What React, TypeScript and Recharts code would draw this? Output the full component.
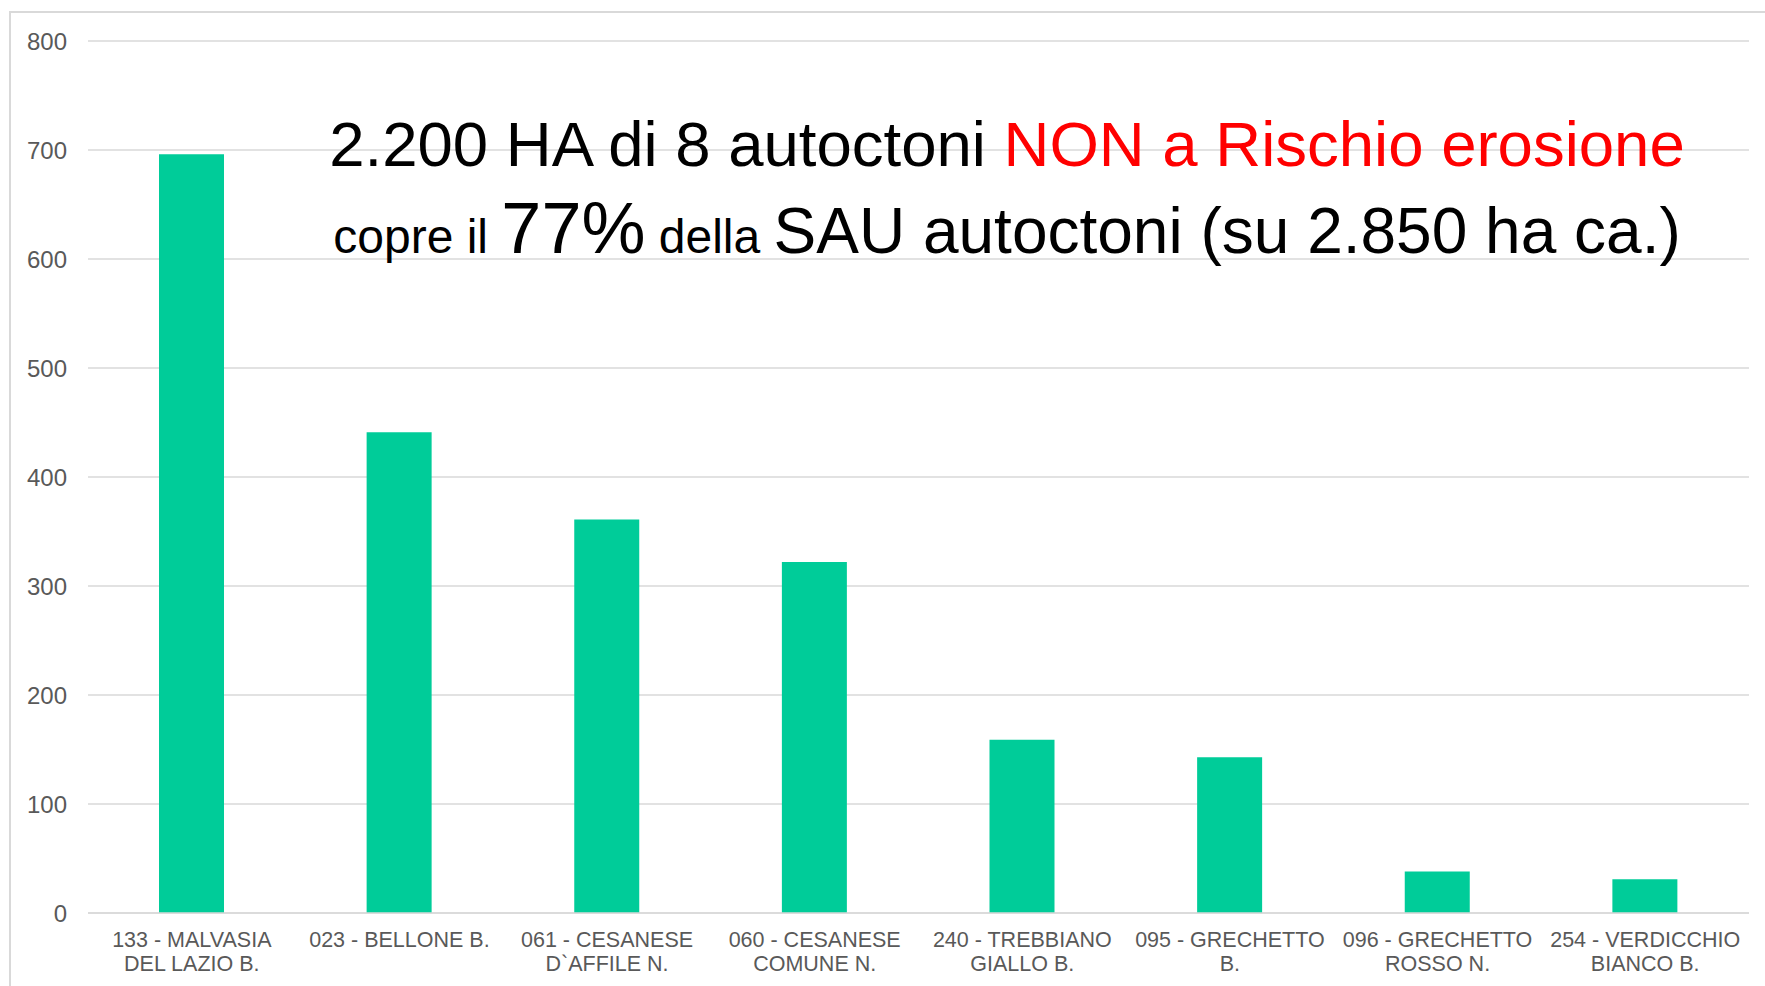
import { BarChart, Bar, CartesianGrid, XAxis, YAxis, Customized } from "recharts";

const categories = [
  "133 - MALVASIA\nDEL LAZIO B.",
  "023 - BELLONE B.",
  "061 - CESANESE\nD`AFFILE N.",
  "060 - CESANESE\nCOMUNE N.",
  "240 - TREBBIANO\nGIALLO B.",
  "095 - GRECHETTO\nB.",
  "096 - GRECHETTO\nROSSO N.",
  "254 - VERDICCHIO\nBIANCO B.",
];
const hectares = [696, 441, 361, 322, 159, 143, 38, 31];
const yTicks = [0, 100, 200, 300, 400, 500, 600, 700, 800];

const data = categories.map((name, i) => ({ name, value: hectares[i] }));

const FONT = "'Liberation Sans', Arial, sans-serif";

function CategoryTick({ x, y, payload }: any) {
  const lines = String(payload.value).split("\n");
  return (
    <text x={x} y={y} textAnchor="middle" fill="#595959" fontSize={21.5} fontFamily={FONT}>
      {lines.map((l, i) => (
        <tspan key={i} x={x} dy={i === 0 ? 34 : 23.5}>
          {l}
        </tspan>
      ))}
    </text>
  );
}

function Title() {
  return (
    <g fontFamily={FONT}>
      <text x={1007} y={166} textAnchor="middle" fontSize={63.5} fill="#000">
        2.200 HA di 8 autoctoni <tspan fill="#ff0000">NON a Rischio erosione</tspan>
      </text>
      <text x={1007} y={253} textAnchor="middle" fill="#000">
        <tspan fontSize={48}>copre il </tspan>
        <tspan fontSize={72}>77%</tspan>
        <tspan fontSize={48}> della </tspan>
        <tspan fontSize={64}>SAU autoctoni (su 2.850 ha ca.)</tspan>
      </text>
    </g>
  );
}

export default function App() {
  return (
    <div
      style={{
        position: "absolute",
        left: 0,
        top: 0,
        width: 1765,
        height: 986,
        overflow: "hidden",
        background: "#fff",
      }}
    >
      <div
        style={{
          position: "absolute",
          left: 9,
          top: 11,
          right: 0,
          bottom: 0,
          borderTop: "2px solid #d9d9d9",
          borderLeft: "2px solid #d9d9d9",
        }}
      />
      <div style={{ position: "absolute", left: 0, top: 0 }}>
        <BarChart
          width={1765}
          height={986}
          data={data}
          margin={{ top: 41, right: 16, bottom: 0, left: 0 }}
          barSize={65}
        >
          <CartesianGrid vertical={false} stroke="#d9d9d9" strokeWidth={1.5} />
          <XAxis
            dataKey="name"
            height={73}
            axisLine={{ stroke: "#d9d9d9", strokeWidth: 1.5 }}
            tickLine={false}
            tickSize={0}
            tickMargin={0}
            interval={0}
            tick={<CategoryTick />}
          />
          <YAxis
            width={88}
            domain={[0, 800]}
            ticks={yTicks}
            axisLine={false}
            tickLine={false}
            tickSize={0}
            tickMargin={21}
            tick={{ fill: "#595959", fontSize: 24, fontFamily: FONT }}
          />
          <Bar dataKey="value" fill="#00cc99" isAnimationActive={false} />
          <Customized component={<Title />} />
        </BarChart>
      </div>
    </div>
  );
}
